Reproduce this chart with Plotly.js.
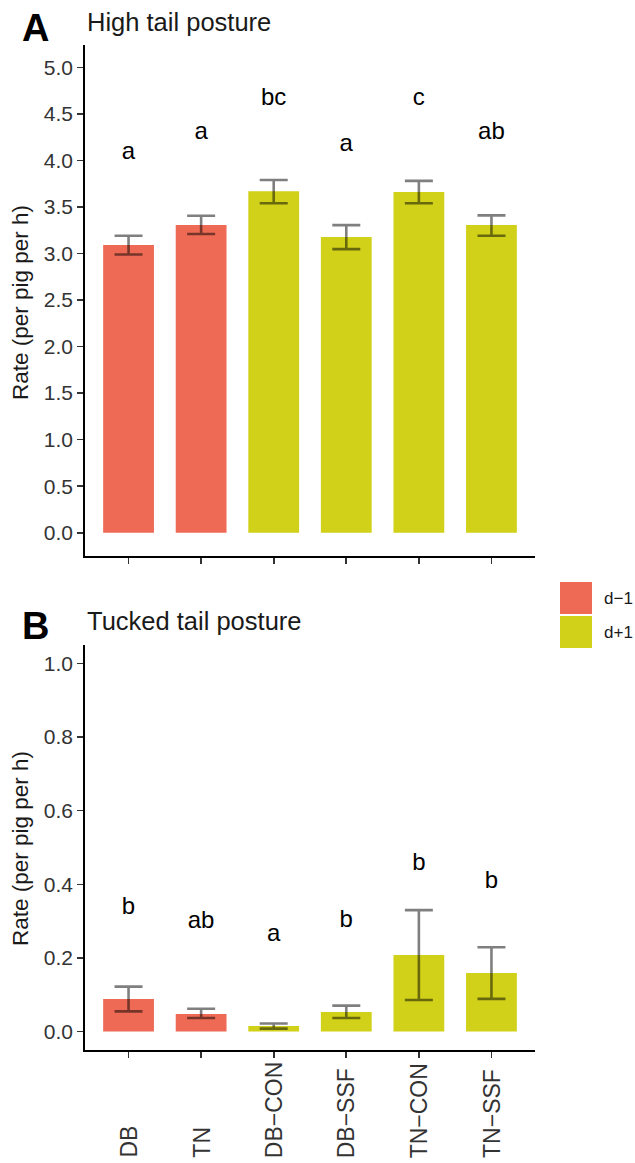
<!DOCTYPE html>
<html>
<head>
<meta charset="utf-8">
<script src="https://cdn.plot.ly/plotly-3.0.1.min.js"></script>
<style>html,body{margin:0;padding:0;background:#fff;}</style>
</head>
<body>
<div id="chart" style="width:635px;height:1163px;"></div>
<script>
// ---- data ----
var categories = ["DB", "TN", "DB\u2212CON", "DB\u2212SSF", "TN\u2212CON", "TN\u2212SSF"];
var groups = ["d\u22121", "d\u22121", "d+1", "d+1", "d+1", "d+1"];
var groupNames = ["d\u22121", "d+1"];
var groupColors = ["#EE6A55", "#D1D119"];

// Panel A: high tail posture
var highMean  = [3.09, 3.305, 3.67, 3.176, 3.66, 3.305];
var highUpper = [3.19, 3.405, 3.79, 3.305, 3.78, 3.41];
var highLower = [2.99, 3.21, 3.54, 3.047, 3.54, 3.19];
var highLetters = ["a", "a", "bc", "a", "c", "ab"];
var highLetterY = [4.08, 4.29, 4.66, 4.17, 4.66, 4.29];

// Panel B: tucked tail posture
var tuckMean  = [0.0888, 0.048, 0.0155, 0.0535, 0.208, 0.159];
var tuckUpper = [0.122, 0.062, 0.022, 0.0706, 0.330, 0.229];
var tuckLower = [0.055, 0.037, 0.008, 0.037, 0.086, 0.0888];
var tuckLetters = ["b", "ab", "a", "b", "b", "b"];
var tuckLetterY = [0.336, 0.298, 0.262, 0.300, 0.455, 0.406];

var panelTitles = ["High tail posture", "Tucked tail posture"];
var panelTags = ["A", "B"];
var yTitle = "Rate (per pig per h)";

// ---- layout geometry ----
var W = 635, H = 1163;
var FONT = "Liberation Sans, Arial, Helvetica, sans-serif";
function py(p) { return 1 - p / H; }
function px(p) { return p / W; }

var traces = [];
function addPanel(mean, upper, lower, letters, letterY, xa, ya) {
  groupNames.forEach(function (g, gi) {
    var xs = [], ys = [], ep = [], em = [];
    for (var i = 0; i < categories.length; i++) {
      if (groups[i] === g) {
        xs.push(categories[i]); ys.push(mean[i]);
        ep.push(upper[i] - mean[i]); em.push(mean[i] - lower[i]);
      }
    }
    traces.push({
      type: "bar", x: xs, y: ys, xaxis: xa, yaxis: ya, width: 0.7,
      marker: {color: groupColors[gi], line: {width: 0}},
      error_y: {type: "data", symmetric: false, array: ep, arrayminus: em,
        color: "rgba(0,0,0,0.5)", thickness: 2.6, width: 14},
      showlegend: false, hoverinfo: "skip"
    });
  });
  traces.push({
    type: "scatter", mode: "text", x: categories, y: letterY, text: letters,
    xaxis: xa, yaxis: ya, textposition: "middle center",
    textfont: {family: FONT, size: 24, color: "#000"},
    showlegend: false, hoverinfo: "skip", cliponaxis: false
  });
}
addPanel(highMean, highUpper, highLower, highLetters, highLetterY, "x", "y");
addPanel(tuckMean, tuckUpper, tuckLower, tuckLetters, tuckLetterY, "x2", "y2");

var xCommon = {
  type: "category", categoryorder: "array", categoryarray: categories,
  range: [-0.6, 5.6], domain: [px(85), px(535)],
  showline: true, linecolor: "#000", linewidth: 1.8,
  ticks: "outside", ticklen: 6, tickwidth: 1.6, tickcolor: "#333",
  showticklabels: false, showgrid: false, zeroline: false, fixedrange: true
};
function yCommon(range, dtick, domain) {
  return {
    range: range, domain: domain, tick0: 0, dtick: dtick, tickformat: ".1f",
    showline: true, linecolor: "#000", linewidth: 1.8,
    ticks: "outside", ticklen: 6, tickwidth: 1.6, tickcolor: "#333",
    tickfont: {family: FONT, size: 21, color: "#333"},
    showgrid: false, zeroline: false, fixedrange: true
  };
}

var x1 = Object.assign({}, xCommon, {anchor: "y"});
var x2 = Object.assign({}, xCommon, {anchor: "y2"});
var y1 = Object.assign(yCommon([-0.25, 5.24], 0.5, [py(556), py(45)]), {anchor: "x"});
var y2 = Object.assign(yCommon([-0.05, 1.05], 0.2, [py(1050), py(645)]), {anchor: "x2"});

var annotations = [];
var tagY = [28, 626], titleY = [22, 621], panelMid = [303, 849];
for (var k = 0; k < 2; k++) {
  annotations.push({xref: "paper", yref: "paper", x: px(35), y: py(tagY[k]),
    xanchor: "center", yanchor: "middle", showarrow: false, text: "<b>" + panelTags[k] + "</b>",
    font: {family: FONT, size: 38, color: "#000"}});
  annotations.push({xref: "paper", yref: "paper", x: px(85), y: py(titleY[k]),
    xanchor: "left", yanchor: "middle", showarrow: false, text: panelTitles[k],
    font: {family: FONT, size: 25.5, color: "#1a1a1a"}});
  annotations.push({xref: "paper", yref: "paper", x: px(20), y: py(panelMid[k]),
    xanchor: "center", yanchor: "middle", showarrow: false, text: yTitle, textangle: -90,
    font: {family: FONT, size: 22.5, color: "#1a1a1a"}});
}
categories.forEach(function (c) {
  annotations.push({xref: "x2", yref: "paper", x: c, y: py(1160),
    xanchor: "center", yanchor: "bottom", showarrow: false, text: c, textangle: -90,
    font: {family: FONT, size: 23, color: "#333"}});
});
var shapes = [];
var legTop = [582, 616];
groupNames.forEach(function (g, gi) {
  shapes.push({type: "rect", xref: "paper", yref: "paper",
    x0: px(560), x1: px(592), y0: py(legTop[gi] + 32), y1: py(legTop[gi]),
    fillcolor: groupColors[gi], line: {width: 0}});
  annotations.push({xref: "paper", yref: "paper", x: px(602), y: py(legTop[gi] + 16),
    xanchor: "left", yanchor: "middle", showarrow: false, text: g,
    font: {family: FONT, size: 17, color: "#1a1a1a"}});
});

var layout = {
  width: W, height: H, margin: {l: 0, r: 0, t: 0, b: 0},
  paper_bgcolor: "#fff", plot_bgcolor: "#fff",
  barmode: "overlay", showlegend: false,
  xaxis: x1, yaxis: y1, xaxis2: x2, yaxis2: y2,
  annotations: annotations, shapes: shapes,
  font: {family: FONT}
};
Plotly.newPlot("chart", traces, layout, {displayModeBar: false, staticPlot: true});
</script>
</body>
</html>
